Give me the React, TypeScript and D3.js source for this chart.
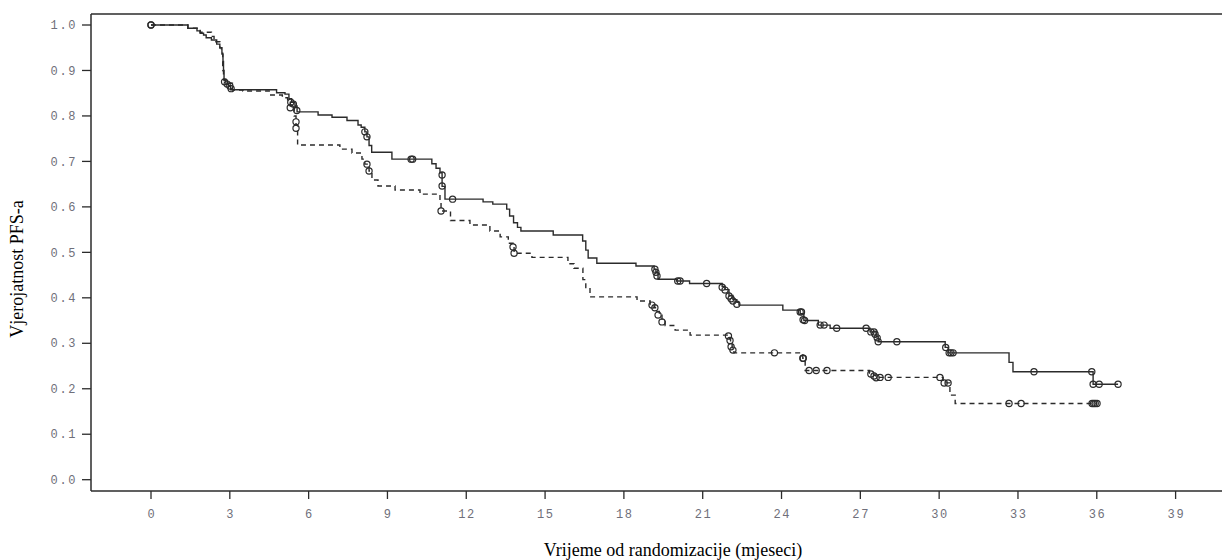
import React from "react";
import * as d3 from "d3";

// ---- data (months, survival probability) ----
const xTicks = [0, 3, 6, 9, 12, 15, 18, 21, 24, 27, 30, 33, 36, 39];
const yTicks = [0, 0.1, 0.2, 0.3, 0.4, 0.5, 0.6, 0.7, 0.8, 0.9, 1.0];

const solidTimes = [0, 1.40, 1.75, 1.87, 2.00, 2.10, 2.30, 2.50, 2.62, 2.70, 2.74, 2.76, 2.78, 2.85, 2.95, 3.03, 4.78, 5.10, 5.25, 5.35, 5.48, 5.56, 6.36, 6.89, 7.46, 7.88, 8.00, 8.14, 8.22, 8.30, 8.40, 9.17, 10.69, 10.85, 11.00, 11.08, 11.19, 12.64, 13.01, 13.54, 13.65, 13.80, 13.95, 14.08, 15.31, 16.43, 16.55, 16.64, 16.97, 18.46, 19.15, 19.22, 19.30, 20.00, 20.50, 21.74, 21.85, 22.00, 22.15, 22.30, 22.38, 24.05, 24.71, 24.85, 25.40, 25.85, 27.37, 27.60, 27.68, 30.23, 30.34, 32.66, 32.81, 35.86];
const solidSurv = [1, 0.993, 0.987, 0.982, 0.978, 0.972, 0.967, 0.958, 0.950, 0.936, 0.920, 0.900, 0.878, 0.870, 0.866, 0.8575, 0.851, 0.848, 0.838, 0.830, 0.822, 0.809, 0.802, 0.797, 0.790, 0.780, 0.775, 0.765, 0.754, 0.735, 0.720, 0.705, 0.695, 0.685, 0.675, 0.645, 0.617, 0.611, 0.606, 0.595, 0.580, 0.565, 0.555, 0.547, 0.538, 0.525, 0.505, 0.4876, 0.476, 0.470, 0.463, 0.456, 0.441, 0.437, 0.4315, 0.425, 0.418, 0.405, 0.396, 0.390, 0.384, 0.373, 0.365, 0.350, 0.340, 0.333, 0.325, 0.315, 0.3035, 0.291, 0.279, 0.258, 0.2375, 0.210];
const solidEnd = 36.81;

const solidCensorT = [0, 2.80, 2.90, 3.00, 3.05, 5.32, 5.42, 5.55, 8.14, 8.22, 9.90, 9.96, 11.08, 11.08, 11.48, 19.18, 19.22, 19.26, 20.05, 20.14, 21.15, 21.74, 21.85, 22.00, 22.08, 22.15, 22.30, 24.71, 24.76, 24.82, 24.88, 25.47, 25.62, 26.10, 27.22, 27.40, 27.52, 27.56, 27.64, 27.68, 28.39, 30.25, 30.38, 30.45, 30.53, 33.61, 35.81, 35.86, 36.09, 36.81];
const solidCensorS = [1, 0.875, 0.870, 0.866, 0.860, 0.830, 0.826, 0.812, 0.765, 0.754, 0.705, 0.705, 0.670, 0.646, 0.617, 0.463, 0.456, 0.448, 0.437, 0.437, 0.4315, 0.4235, 0.417, 0.404, 0.398, 0.393, 0.386, 0.369, 0.369, 0.352, 0.350, 0.340, 0.340, 0.333, 0.333, 0.325, 0.325, 0.320, 0.312, 0.3035, 0.3035, 0.291, 0.279, 0.279, 0.279, 0.2375, 0.2375, 0.210, 0.210, 0.210];

const dashTimes = [0, 1.41, 1.87, 2.30, 2.40, 2.62, 2.68, 2.73, 2.76, 2.85, 3.10, 3.50, 4.50, 5.00, 5.20, 5.30, 5.45, 5.52, 5.58, 7.19, 7.65, 8.03, 8.14, 8.30, 8.41, 8.64, 9.29, 10.24, 11.00, 11.04, 11.40, 12.14, 12.90, 13.29, 13.60, 13.78, 13.82, 14.50, 15.87, 16.10, 16.44, 16.55, 16.71, 18.50, 19.00, 19.15, 19.25, 19.35, 19.45, 19.57, 19.95, 20.52, 22.02, 22.06, 22.12, 22.19, 24.81, 24.90, 27.35, 27.50, 27.58, 30.15, 30.41, 30.61];
const dashSurv = [1, 0.993, 0.984, 0.975, 0.963, 0.950, 0.938, 0.900, 0.880, 0.872, 0.857, 0.855, 0.846, 0.840, 0.830, 0.818, 0.800, 0.780, 0.736, 0.727, 0.7185, 0.705, 0.694, 0.679, 0.659, 0.646, 0.637, 0.628, 0.610, 0.591, 0.570, 0.560, 0.547, 0.534, 0.520, 0.512, 0.498, 0.489, 0.475, 0.465, 0.440, 0.420, 0.402, 0.393, 0.385, 0.378, 0.370, 0.362, 0.348, 0.339, 0.329, 0.318, 0.310, 0.300, 0.290, 0.279, 0.267, 0.240, 0.234, 0.230, 0.225, 0.213, 0.186, 0.1676];
const dashEnd = 36.01;

const dashCensorT = [0, 5.30, 5.52, 5.52, 8.22, 8.30, 11.04, 13.78, 13.82, 19.07, 19.18, 19.30, 19.45, 21.98, 22.04, 22.08, 22.15, 23.73, 24.81, 24.83, 25.05, 25.32, 25.73, 27.40, 27.52, 27.60, 27.75, 28.06, 30.03, 30.19, 30.34, 32.66, 33.12, 35.82, 35.88, 35.94, 36.01];
const dashCensorS = [1, 0.818, 0.787, 0.773, 0.694, 0.679, 0.591, 0.512, 0.498, 0.384, 0.378, 0.362, 0.347, 0.316, 0.306, 0.2925, 0.285, 0.279, 0.267, 0.267, 0.240, 0.240, 0.240, 0.2325, 0.228, 0.224, 0.225, 0.225, 0.225, 0.2127, 0.2127, 0.1676, 0.1676, 0.1676, 0.1676, 0.1676, 0.1676];

const W = 1222;
const H = 560;
const ink = "#2b2b2b";
const tickColor = "#6f6f7a";

export default function App() {
  const x = d3.scaleLinear().domain([0, 39]).range([151, 1175.6]);
  const y = d3.scaleLinear().domain([0, 1]).range([479.7, 25]);
  const frameLeft = 91;
  const frameTop = 14;
  const frameBottom = 491;

  const line = d3
    .line<[number, number]>()
    .x((d) => x(d[0]))
    .y((d) => y(d[1]))
    .curve(d3.curveStepAfter);

  const solidPts: [number, number][] = solidTimes.map((t, i) => [t, solidSurv[i]]);
  solidPts.push([solidEnd, solidSurv[solidSurv.length - 1]]);
  const dashPts: [number, number][] = dashTimes.map((t, i) => [t, dashSurv[i]]);
  dashPts.push([dashEnd, dashSurv[dashSurv.length - 1]]);

  const fmt = d3.format(".1f");

  return (
    <svg
      width={W}
      height={H}
      style={{ position: "absolute", left: 0, top: 0, background: "#fff" }}
    >
      {/* frame */}
      <line x1={frameLeft} y1={frameTop} x2={W} y2={frameTop} stroke={ink} strokeWidth={1.5} />
      <line x1={frameLeft} y1={frameTop} x2={frameLeft} y2={frameBottom} stroke={ink} strokeWidth={1.5} />
      <line x1={frameLeft} y1={frameBottom} x2={W} y2={frameBottom} stroke={ink} strokeWidth={1.5} />

      {/* y ticks */}
      {yTicks.map((v) => (
        <g key={"y" + v}>
          <line x1={frameLeft - 9} x2={frameLeft} y1={y(v)} y2={y(v)} stroke={ink} strokeWidth={1.3} />
          <text
            x={77}
            y={y(v)}
            dy="0.35em"
            textAnchor="end"
            fontFamily="'Liberation Mono', monospace"
            fontSize={12}
            letterSpacing={1.6}
            fill={tickColor}
          >
            {fmt(v)}
          </text>
        </g>
      ))}

      {/* x ticks */}
      {xTicks.map((v) => (
        <g key={"x" + v}>
          <line x1={x(v)} x2={x(v)} y1={frameBottom} y2={frameBottom + 8} stroke={ink} strokeWidth={1.3} />
          <text
            x={x(v) + 0.8}
            y={514}
            dy="0.35em"
            textAnchor="middle"
            fontFamily="'Liberation Mono', monospace"
            fontSize={12}
            letterSpacing={1.6}
            fill={tickColor}
          >
            {v}
          </text>
        </g>
      ))}

      {/* axis titles */}
      <text
        x={673}
        y={556}
        textAnchor="middle"
        fontFamily="'Liberation Serif', 'Times New Roman', serif"
        fontSize={18}
        fill="#000"
      >
        Vrijeme od randomizacije (mjeseci)
      </text>
      <text
        transform="translate(23,269) rotate(-90)"
        textAnchor="middle"
        fontFamily="'Liberation Serif', 'Times New Roman', serif"
        fontSize={18}
        fill="#000"
      >
        Vjerojatnost PFS-a
      </text>

      {/* curves */}
      <path d={line(dashPts) || ""} fill="none" stroke={ink} strokeWidth={1.4} strokeDasharray="5,4" />
      <path d={line(solidPts) || ""} fill="none" stroke={ink} strokeWidth={1.4} />

      {/* censor marks */}
      {dashCensorT.map((t, i) => (
        <circle key={"dc" + i} cx={x(t)} cy={y(dashCensorS[i])} r={3.1} fill="none" stroke={ink} strokeWidth={1.2} />
      ))}
      {solidCensorT.map((t, i) => (
        <circle key={"sc" + i} cx={x(t)} cy={y(solidCensorS[i])} r={3.1} fill="none" stroke={ink} strokeWidth={1.2} />
      ))}
    </svg>
  );
}
